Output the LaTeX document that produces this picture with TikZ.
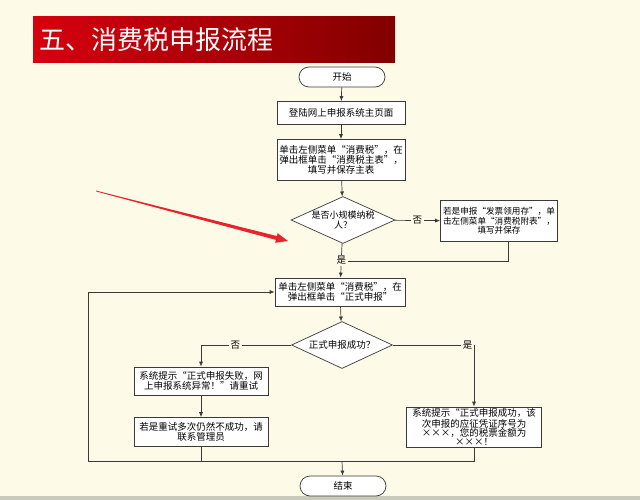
\documentclass[tikz,border=0pt]{standalone}
\usepackage{fontspec}
\setmainfont{Noto Sans CJK SC}
\usetikzlibrary{shapes.geometric,arrows.meta}
\definecolor{bgcream}{HTML}{FEFAE8}
\definecolor{bargrey}{HTML}{C9C9BC}
\definecolor{titlered}{HTML}{D6000E}
\definecolor{titledark}{HTML}{820000}
\definecolor{linegrey}{HTML}{3A3A3A}
\definecolor{pointred}{HTML}{E8232B}
\begin{document}
\begin{tikzpicture}[x=1pt,y=-1pt,
  box/.style={draw=linegrey,fill=white,line width=0.7pt,align=center,inner sep=1pt,
    font=\fontsize{9.5}{9.8}\selectfont},
  term/.style={box,rounded corners=10pt,minimum width=86pt,minimum height=20pt},
  decide/.style={box,diamond,aspect=2.2,inner sep=0pt,minimum width=104pt,minimum height=47pt},
  flow/.style={draw=linegrey,line width=0.7pt,-{Latex[length=5pt,width=4pt]}},
  link/.style={draw=linegrey,line width=0.7pt},
  lbl/.style={fill=bgcream,inner sep=1.5pt,font=\fontsize{9.5}{9.8}\selectfont},
  banner/.style={left color=titlered,right color=titledark,text=white,align=left,
    inner xsep=6pt,text width=350pt,minimum height=46pt,font=\fontsize{26}{26}\selectfont}]
\fill[bgcream] (0,0) rectangle (640,500);
\fill[bargrey] (0,496) rectangle (640,500);
\useasboundingbox (0,0) rectangle (640,500);

\node[banner,anchor=north west] (title) at (33,16) {五、消费税申报流程};

\node[term] (start) at (342,77) {开始};
\node[box,minimum width=128pt,minimum height=23pt] (login) at (341,113) {登陆网上申报系统主页面};
\node[box,minimum width=128pt,minimum height=41pt] (mainform) at (341,160)
  {单击左侧菜单“消费税”，在\\弹出框单击“消费税主表”，\\填写并保存主表};
\node[decide,font=\fontsize{9}{9.5}\selectfont] (small) at (343,220) {是否小规模纳税\\人？};
\node[box,minimum width=117pt,minimum height=41pt,inner sep=0.5pt,font=\fontsize{8.6}{9.6}\selectfont] (attach) at (499,221)
  {若是申报“发票领用存”，单\\击左侧菜单“消费税附表”，\\填写并保存};
\node[box,minimum width=130pt,minimum height=28pt] (submit) at (340,292)
  {单击左侧菜单“消费税”，在\\弹出框单击“正式申报”};
\node[decide,minimum width=101pt] (ok) at (342,345) {正式申报成功？};
\node[box,minimum width=134pt,minimum height=28pt] (fail) at (201,381)
  {系统提示“正式申报失败，网\\上申报系统异常！”请重试};
\node[box,minimum width=134pt,minimum height=29pt] (retry) at (201,432)
  {若是重试多次仍然不成功，请\\联系管理员};
\node[box,minimum width=135pt,minimum height=40pt,font=\fontsize{9.5}{9}\selectfont] (success) at (474,427)
  {系统提示“正式申报成功，该\\次申报的应征凭证序号为\\×××，您的税票金额为\\×××！};
\node[term] (end) at (343,486) {结束};

\coordinate (join) at (342,261);
\coordinate (bot) at (342,461);
\coordinate (loop) at (88,461);

\draw[flow] (start) -- (login);
\draw[flow] (login) -- (mainform);
\draw[flow] (mainform) -- (small);
\draw[flow] (small) -- node[lbl]{否} (attach);
\draw[link] ([xshift=9pt]attach.south) |- (join);
\draw[flow] (small) -- node[lbl]{是} (submit);
\draw[flow] (submit) -- (ok);
\draw[flow] (ok.west) -| node[lbl,pos=0.31]{否} (fail.north);
\draw[flow] (ok.east) -| node[lbl,pos=0.46]{是} (success.north);
\draw[flow] (fail) -- (retry);
\draw[link] (retry.south) -- (retry.south |- bot);
\draw[link] (success.south) -- (success.south |- bot) -- (loop);
\draw[flow] (loop) |- (submit.west);
\draw[flow] (bot) -- (end);

\fill[pointred] (96,190.6) -- (276.9,236.1) -- (277.7,233.2) -- (288,241)
  -- (275.1,242.8) -- (275.9,239.9) -- (96,191.4) -- cycle;
\end{tikzpicture}
\end{document}
